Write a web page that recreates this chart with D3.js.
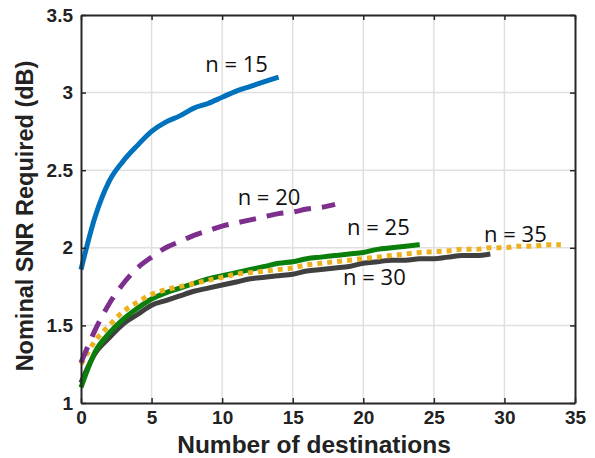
<!DOCTYPE html>
<html>
<head>
<meta charset="utf-8">
<script src="https://cdn.jsdelivr.net/npm/d3@7"></script>
<style>
  body { margin: 0; background: #fff; }
</style>
</head>
<body>
<div id="chart"></div>
<script>
// x values: number of destinations, y values: nominal SNR required (dB)
const n15 = [1.86, 2.2, 2.43, 2.56, 2.66, 2.75, 2.81, 2.85, 2.9, 2.93, 2.97, 3.01, 3.04, 3.07, 3.1];
const n20 = [1.26, 1.47, 1.64, 1.77, 1.87, 1.94, 2.0, 2.04, 2.08, 2.11, 2.14, 2.16, 2.18, 2.2, 2.22, 2.23, 2.25, 2.26, 2.28];
const n25 = [1.1, 1.33, 1.45, 1.54, 1.61, 1.67, 1.71, 1.74, 1.77, 1.8, 1.82, 1.84, 1.86, 1.88, 1.9, 1.91, 1.93, 1.94, 1.95, 1.96, 1.97, 1.99, 2.0, 2.01, 2.02];
const n30 = [1.13, 1.32, 1.42, 1.51, 1.57, 1.63, 1.66, 1.69, 1.72, 1.74, 1.76, 1.78, 1.8, 1.81, 1.82, 1.83, 1.85, 1.86, 1.87, 1.88, 1.9, 1.91, 1.92, 1.92, 1.93, 1.93, 1.94, 1.95, 1.95, 1.96];
const n35 = [1.25, 1.4, 1.5, 1.59, 1.65, 1.7, 1.73, 1.75, 1.77, 1.79, 1.81, 1.83, 1.84, 1.85, 1.86, 1.87, 1.89, 1.9, 1.91, 1.92, 1.93, 1.94, 1.95, 1.96, 1.97, 1.975, 1.98, 1.99, 1.99, 2.0, 2.0, 2.01, 2.01, 2.02, 2.02];

const xTicks = [0, 5, 10, 15, 20, 25, 30, 35];
const yTicks = [1, 1.5, 2, 2.5, 3, 3.5];

const series = [
  { name: "n = 30", values: n30, color: "#404040", dash: null },
  { name: "n = 25", values: n25, color: "#0b7f0b", dash: null },
  { name: "n = 35", values: n35, color: "#EDB120", dash: "5,5" },
  { name: "n = 20", values: n20, color: "#7E2F8E", dash: "17,11" },
  { name: "n = 15", values: n15, color: "#0072BD", dash: null }
];

// label anchor in data units (left edge, baseline)
const labels = [
  { text: "n = 15", x: 8.8, y: 3.13 },
  { text: "n = 20", x: 11.1, y: 2.276 },
  { text: "n = 25", x: 18.85, y: 2.082 },
  { text: "n = 30", x: 18.57, y: 1.76 },
  { text: "n = 35", x: 28.56, y: 2.037 }
];

const width = 595, height = 458;
const margin = { left: 81, right: 20, top: 15, bottom: 55 };

const svg = d3.select("#chart").append("svg")
  .attr("width", width)
  .attr("height", height);

const x = d3.scaleLinear().domain([0, 35]).range([margin.left, width - margin.right]);
const y = d3.scaleLinear().domain([1, 3.5]).range([height - margin.bottom, margin.top]);

// grid
svg.append("g").selectAll("line")
  .data(xTicks.slice(1, -1))
  .join("line")
  .attr("x1", d => x(d)).attr("x2", d => x(d))
  .attr("y1", y(1)).attr("y2", y(3.5))
  .attr("stroke", "#e0e0e0").attr("stroke-width", 1.5);
svg.append("g").selectAll("line")
  .data(yTicks.slice(1, -1))
  .join("line")
  .attr("y1", d => y(d)).attr("y2", d => y(d))
  .attr("x1", x(0)).attr("x2", x(35))
  .attr("stroke", "#e0e0e0").attr("stroke-width", 1.5);

// curves
const line = d3.line()
  .x((d, i) => x(i))
  .y(d => y(d))
  .curve(d3.curveMonotoneX);

svg.append("g").selectAll("path")
  .data(series)
  .join("path")
  .attr("d", d => line(d.values))
  .attr("fill", "none")
  .attr("stroke", d => d.color)
  .attr("stroke-width", 5)
  .attr("stroke-dasharray", d => d.dash)
  .attr("stroke-linejoin", "round");

// axes box with inward ticks
const axisColor = "#262626";
const axBottom = svg.append("g")
  .attr("transform", `translate(0,${y(1)})`)
  .call(d3.axisBottom(x).tickValues(xTicks).tickSizeInner(-5).tickSizeOuter(0).tickPadding(8));
const axLeft = svg.append("g")
  .attr("transform", `translate(${x(0)},0)`)
  .call(d3.axisLeft(y).tickValues(yTicks).tickFormat(d3.format("")).tickSizeInner(-5).tickSizeOuter(0).tickPadding(8));
const axTop = svg.append("g")
  .attr("transform", `translate(0,${y(3.5)})`)
  .call(d3.axisTop(x).tickValues(xTicks).tickSizeInner(-5).tickSizeOuter(0).tickFormat(""));
const axRight = svg.append("g")
  .attr("transform", `translate(${x(35)},0)`)
  .call(d3.axisRight(y).tickValues(yTicks).tickSizeInner(-5).tickSizeOuter(0).tickFormat(""));

[axBottom, axLeft, axTop, axRight].forEach(g => {
  g.select(".domain").attr("stroke", axisColor).attr("stroke-width", 2);
  g.selectAll(".tick line").attr("stroke", axisColor).attr("stroke-width", 1.5);
  g.selectAll(".tick text")
    .attr("fill", "#222")
    .style("font-size", "19px")
    .style("font-weight", "bold")
    .style("font-family", "Liberation Sans, Arial, sans-serif");
});

// curve labels
svg.append("g").selectAll("text")
  .data(labels)
  .join("text")
  .attr("x", d => x(d.x))
  .attr("y", d => y(d.y))
  .style("font-family", "Open Sans, sans-serif")
  .style("font-size", "22px")
  .attr("fill", "#111")
  .text(d => d.text);

// axis titles
svg.append("text")
  .attr("x", 314)
  .attr("y", 453)
  .attr("text-anchor", "middle")
  .style("font-family", "Liberation Sans, Arial, sans-serif")
  .style("font-size", "24.5px")
  .style("font-weight", "bold")
  .attr("fill", "#222")
  .text("Number of destinations");

svg.append("text")
  .attr("transform", `translate(33,216) rotate(-90)`)
  .attr("text-anchor", "middle")
  .style("font-family", "Liberation Sans, Arial, sans-serif")
  .style("font-size", "23.5px")
  .style("font-weight", "bold")
  .attr("fill", "#222")
  .text("Nominal SNR Required (dB)");
</script>
</body>
</html>
